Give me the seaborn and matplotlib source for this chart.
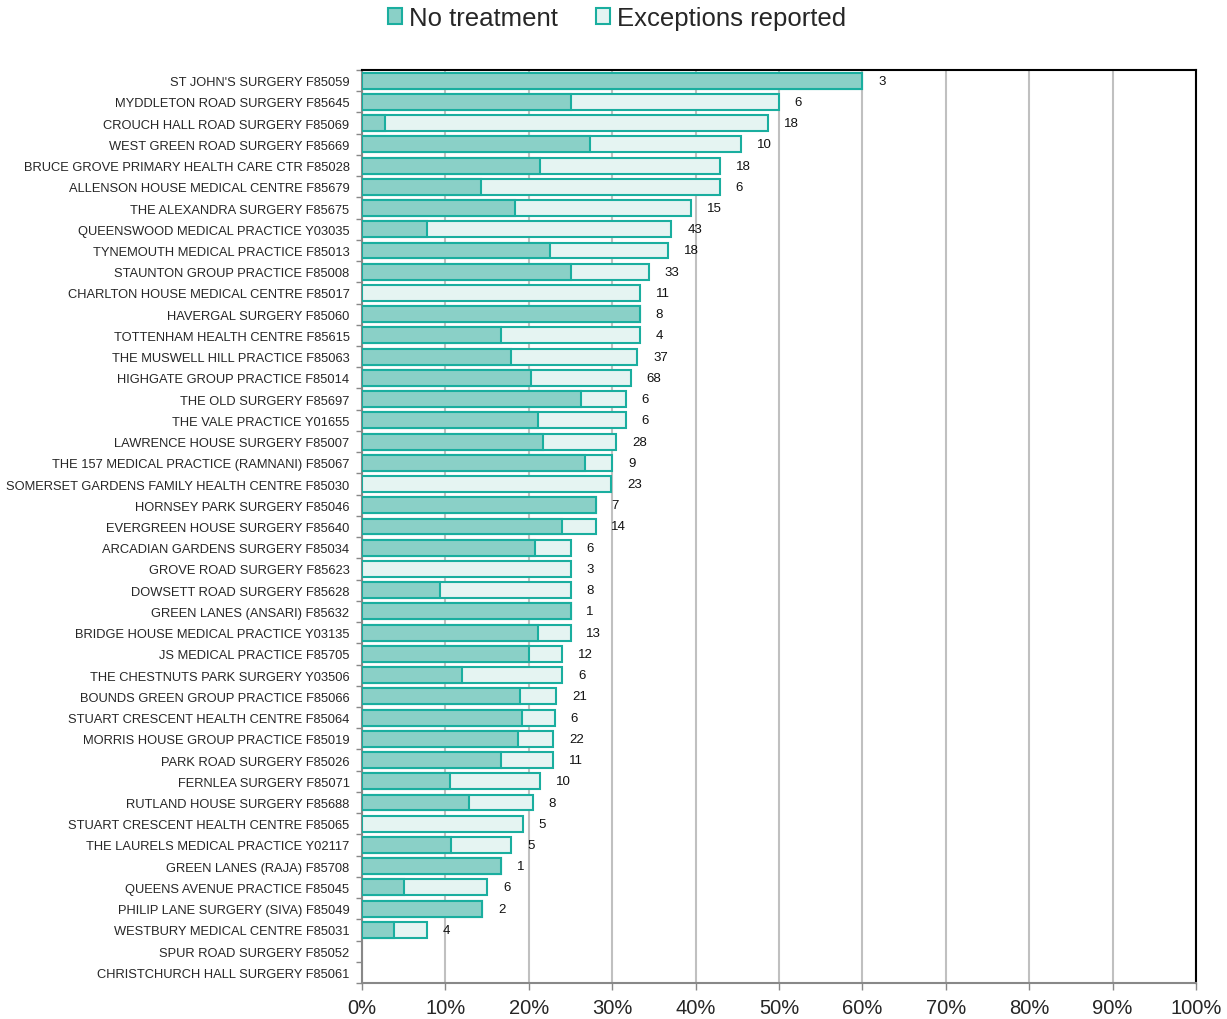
import numpy as np
import pandas as pd
import seaborn as sns
import matplotlib.pyplot as plt
from matplotlib.patches import Patch

# Tên phòng khám (từ trên xuống)
practices = [
    "ST JOHN'S SURGERY F85059",
    "MYDDLETON ROAD SURGERY F85645",
    "CROUCH HALL ROAD SURGERY F85069",
    "WEST GREEN ROAD SURGERY F85669",
    "BRUCE GROVE PRIMARY HEALTH CARE CTR F85028",
    "ALLENSON HOUSE MEDICAL CENTRE F85679",
    "THE ALEXANDRA SURGERY F85675",
    "QUEENSWOOD MEDICAL PRACTICE Y03035",
    "TYNEMOUTH MEDICAL PRACTICE F85013",
    "STAUNTON GROUP PRACTICE F85008",
    "CHARLTON HOUSE MEDICAL CENTRE F85017",
    "HAVERGAL SURGERY F85060",
    "TOTTENHAM HEALTH CENTRE F85615",
    "THE MUSWELL HILL PRACTICE F85063",
    "HIGHGATE GROUP PRACTICE F85014",
    "THE OLD SURGERY F85697",
    "THE VALE PRACTICE Y01655",
    "LAWRENCE HOUSE SURGERY F85007",
    "THE 157 MEDICAL PRACTICE (RAMNANI) F85067",
    "SOMERSET GARDENS FAMILY HEALTH CENTRE F85030",
    "HORNSEY PARK SURGERY F85046",
    "EVERGREEN HOUSE SURGERY F85640",
    "ARCADIAN GARDENS SURGERY F85034",
    "GROVE ROAD SURGERY F85623",
    "DOWSETT ROAD SURGERY F85628",
    "GREEN LANES (ANSARI) F85632",
    "BRIDGE HOUSE MEDICAL PRACTICE Y03135",
    "JS MEDICAL PRACTICE F85705",
    "THE CHESTNUTS PARK SURGERY Y03506",
    "BOUNDS GREEN GROUP PRACTICE F85066",
    "STUART CRESCENT HEALTH CENTRE F85064",
    "MORRIS HOUSE GROUP PRACTICE F85019",
    "PARK ROAD SURGERY F85026",
    "FERNLEA SURGERY F85071",
    "RUTLAND HOUSE SURGERY F85688",
    "STUART CRESCENT HEALTH CENTRE F85065",
    "THE LAURELS MEDICAL PRACTICE Y02117",
    "GREEN LANES (RAJA) F85708",
    "QUEENS AVENUE PRACTICE F85045",
    "PHILIP LANE SURGERY (SIVA) F85049",
    "WESTBURY MEDICAL CENTRE F85031",
    "SPUR ROAD SURGERY F85052",
    "CHRISTCHURCH HALL SURGERY F85061",
]

# % không điều trị
no_treatment = [60.0, 25.0, 2.7, 27.3, 21.4, 14.3, 18.4, 7.8, 22.5, 25.0,
                0.0, 33.3, 16.7, 17.9, 20.3, 26.3, 21.1, 21.7, 26.7, 0.0,
                28.0, 24.0, 20.8, 0.0, 9.4, 25.0, 21.1, 20.0, 12.0, 18.9,
                19.2, 18.7, 16.7, 10.6, 12.8, 0.0, 10.7, 16.7, 5.0, 14.4,
                3.8, 0.0, 0.0]

# % ngoại lệ được báo cáo
exceptions = [0.0, 25.0, 46.0, 18.2, 21.5, 28.6, 21.1, 29.3, 14.2, 9.4,
              33.3, 0.0, 16.6, 15.1, 11.9, 5.3, 10.5, 8.8, 3.3, 29.9,
              0.0, 4.0, 4.2, 25.0, 15.6, 0.0, 3.9, 4.0, 12.0, 4.4,
              3.9, 4.2, 6.2, 10.7, 7.7, 19.3, 7.2, 0.0, 10.0, 0.0,
              4.0, 0.0, 0.0]

# Số lượng hiển thị cạnh thanh
counts = [3, 6, 18, 10, 18, 6, 15, 43, 18, 33, 11, 8, 4, 37, 68, 6, 6, 28, 9, 23,
          7, 14, 6, 3, 8, 1, 13, 12, 6, 21, 6, 22, 11, 10, 8, 5, 5, 1, 6, 2,
          4, None, None]

df = pd.DataFrame({'practice': practices, 'no_treatment': no_treatment,
                   'exceptions': exceptions, 'count': counts})
df['total'] = df['no_treatment'] + df['exceptions']

teal = '#1AAE9F'
fill_nt = '#8AD0C7'
fill_exc = '#E5F4F2'

sns.set_style("white")
plt.rcParams['font.family'] = ['Liberation Sans', 'DejaVu Sans']

fig = plt.figure(figsize=(12.27, 10.2), dpi=100)
ax = fig.add_axes([362 / 1227, 36 / 1020, 834 / 1227, 913 / 1020])

sns.barplot(data=df, x='total', y='practice', orient='h', color=fill_exc,
            edgecolor=teal, linewidth=1.5, width=0.75, saturation=1, ax=ax, zorder=3)
sns.barplot(data=df, x='no_treatment', y='practice', orient='h', color=fill_nt,
            edgecolor=teal, linewidth=1.5, width=0.75, saturation=1, ax=ax, zorder=4)

# Bỏ viền cho thanh có giá trị 0
for p in ax.patches:
    if p.get_width() == 0:
        p.set_linewidth(0)

# Nhãn số lượng
for i, row in df.iterrows():
    if pd.notna(row['count']) and row['total'] > 0:
        ax.text(row['total'] + 1.9, i, str(int(row['count'])), va='center',
                ha='left', fontsize=9.5, color='#111111', zorder=5)

ax.set_xlim(0, 100)
ax.set_ylim(len(df) - 0.5, -0.5)
ax.set_xticks(np.arange(0, 101, 10))
ax.set_xticklabels([f'{v}%' for v in range(0, 101, 10)], fontsize=14.5)
ax.set_yticks(np.arange(-0.5, len(df), 1), minor=True)
ax.tick_params(axis='y', which='major', length=0, labelsize=9.3, pad=9)
ax.tick_params(axis='y', which='minor', length=4, color='#888888', width=1, direction='out', left=True)
ax.tick_params(axis='x', length=5, color='#888888', width=1, direction='out', bottom=True, pad=6)
ax.set_xlabel('')
ax.set_ylabel('')
ax.xaxis.grid(True, color='#C0C0C0', linewidth=1.5, zorder=0)
ax.set_axisbelow(True)

for side in ['left', 'bottom']:
    ax.spines[side].set_color('#888888')
    ax.spines[side].set_linewidth(1.5)
for side in ['top', 'right']:
    ax.spines[side].set_color('black')
    ax.spines[side].set_linewidth(1.5)

handles = [Patch(facecolor=fill_nt, edgecolor=teal, linewidth=1.5, label='No treatment'),
           Patch(facecolor=fill_exc, edgecolor=teal, linewidth=1.5, label='Exceptions reported')]
fig.legend(handles=handles, loc='center', bbox_to_anchor=(0.503, 1 - 19 / 1020), ncol=2,
           frameon=False, fontsize=18.5, handlelength=0.55, handleheight=0.55,
           handletextpad=0.25, columnspacing=1.5, borderpad=0)

plt.savefig('out.png', dpi=100)
